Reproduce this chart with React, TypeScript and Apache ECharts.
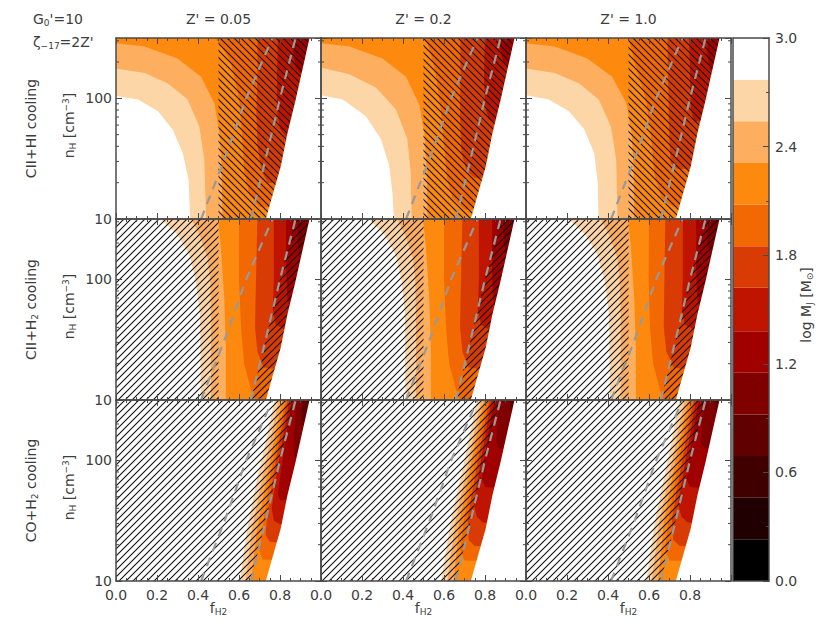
import React, { useEffect, useRef } from "react";
import * as echarts from "echarts";

type Pt = [number, number];

// ---------- texts ----------
const columnTitles = ["Z' = 0.05", "Z' = 0.2", "Z' = 1.0"];
const rowLabels = ["{b|CII+HI cooling}", "{b|CII+H}{s|2}{b| cooling}", "{b|CO+H}{s|2}{b| cooling}"];
const yAxisTitle = "{b|n}{s|H}{b| [cm}{p|−3}{b|]}";
const xAxisTitle = "{b|f}{s|H2}";
const colorbarTitle = "{b|log M}{s|J}{b| [M}{s|⊙}{b|]}";
const cornerLine1 = "{b|G}{s|0}{b|'=10}";
const cornerLine2 = "{b|ζ}{s|−17}{b|=2Z'}";

// ---------- colour scale ----------
const contourLevels = [2.77, 2.54, 2.31, 2.08, 1.85, 1.62, 1.38, 1.15, 0.92];
const bandColors = ["#FDD6A8", "#FDAE5E", "#FD8A0E", "#F26802", "#D83C04", "#BE1400", "#A00000", "#800000", "#600000"];
const colorbarEdges = [0, 0.23, 0.46, 0.69, 0.92, 1.15, 1.38, 1.62, 1.85, 2.08, 2.31, 2.54, 2.77, 3.0];
const colorbarColors = ["#000000", "#200000", "#400000", "#600000", "#800000", "#A00000", "#BE1400", "#D83C04", "#F26802", "#FD8A0E", "#FDAE5E", "#FDD6A8", "#FFFFFF"];

// ---------- axes ----------
const yMinorTicks = [20, 30, 40, 50, 60, 70, 80, 90, 200, 300];

// ---------- common curves (fH2, nH) ----------
const domainEdge: Pt[] = [[0.731, 10], [0.765, 16], [0.803, 27], [0.836, 51], [0.876, 97], [0.944, 316]];
const dashLine1: Pt[] = [[0.415, 10], [0.53, 31.6], [0.635, 100], [0.763, 316]];
const dashLine2: Pt[] = [[0.658, 10], [0.73, 31.6], [0.8, 100], [0.876, 316]];
const hatchSplit = 0.5;

// ---------- contour boundaries, one list per level (2.77, 2.54, ...) ----------
const hiZ005: Pt[][] = [
  [[-0.01, 105], [0.108, 98], [0.205, 78], [0.277, 55], [0.326, 35], [0.354, 21], [0.363, 9]],
  [[-0.01, 178], [0.14, 162], [0.253, 133], [0.35, 98], [0.407, 58], [0.431, 31], [0.44, 9]],
  [[-0.01, 288], [0.14, 269], [0.3, 214], [0.415, 151], [0.48, 91], [0.505, 51], [0.515, 27], [0.52, 9]],
  [[0.47, 340], [0.52, 263], [0.56, 200], [0.6, 100], [0.615, 50], [0.625, 25], [0.65, 16], [0.7, 12.6], [1.0, 12]],
  [[0.69, 340], [0.69, 158], [0.685, 79], [0.69, 40], [0.71, 25], [0.74, 20], [1.0, 19]],
  [[0.79, 340], [0.785, 158], [0.785, 79], [0.8, 56], [0.83, 48], [1.0, 47]],
  [[0.865, 340], [0.865, 224], [0.88, 178], [0.905, 158], [1.0, 155]],
];
const hiZ02: Pt[][] = [
  [[-0.01, 107], [0.106, 98], [0.219, 71], [0.292, 46], [0.332, 28], [0.349, 16], [0.357, 9]],
  [[-0.01, 182], [0.138, 158], [0.268, 123], [0.365, 81], [0.421, 46], [0.438, 24], [0.443, 9]],
  [[-0.01, 288], [0.14, 269], [0.3, 214], [0.415, 151], [0.48, 88], [0.505, 50], [0.515, 26], [0.52, 9]],
  [[0.5, 340], [0.53, 251], [0.56, 158], [0.585, 79], [0.6, 40], [0.615, 22], [0.64, 15], [0.7, 12], [1.0, 11.5]],
  [[0.68, 340], [0.68, 158], [0.678, 71], [0.685, 35], [0.71, 25], [0.75, 22], [1.0, 21]],
  [[0.8, 340], [0.795, 158], [0.8, 85], [0.82, 66], [0.86, 63], [1.0, 62]],
  [[0.875, 340], [0.875, 251], [0.89, 200], [0.92, 182], [1.0, 180]],
];
const hiZ10: Pt[][] = [
  [[-0.01, 107], [0.11, 98], [0.21, 78], [0.285, 55], [0.333, 35], [0.35, 20], [0.354, 9]],
  [[-0.01, 178], [0.14, 162], [0.26, 133], [0.355, 98], [0.415, 58], [0.44, 31], [0.447, 9]],
  [[-0.01, 288], [0.14, 269], [0.3, 214], [0.42, 151], [0.49, 91], [0.515, 51], [0.525, 27], [0.528, 9]],
  [[0.496, 340], [0.536, 182], [0.585, 98], [0.609, 51], [0.625, 24], [0.66, 15], [0.72, 12.6], [1.0, 12.3]],
  [[0.69, 340], [0.693, 158], [0.698, 51], [0.706, 29], [0.74, 26], [1.0, 26.5]],
  [[0.795, 340], [0.8, 158], [0.805, 79], [0.82, 65], [1.0, 62]],
  [[0.884, 340], [0.885, 224], [0.9, 170], [1.0, 166]],
];
const h2Z005: Pt[][] = [
  [[0.2, 340], [0.3, 234], [0.359, 158], [0.39, 95], [0.41, 51], [0.414, 9]],
  [[0.358, 340], [0.407, 234], [0.447, 150], [0.46, 95], [0.463, 51], [0.463, 9]],
  [[0.496, 340], [0.512, 182], [0.528, 69], [0.536, 27], [0.536, 9]],
  [[0.6, 340], [0.6, 100], [0.61, 40], [0.625, 20], [0.66, 12], [0.69, 9]],
  [[0.69, 340], [0.683, 100], [0.678, 40], [0.69, 25], [0.72, 18.6], [1.0, 16]],
  [[0.77, 340], [0.77, 100], [0.765, 56], [0.78, 42], [0.825, 38], [1.0, 37]],
  [[0.83, 340], [0.83, 126], [0.835, 71], [0.85, 58], [1.0, 56]],
  [[0.885, 340], [0.885, 200], [0.9, 158], [1.0, 155]],
];
const h2Z02: Pt[][] = [
  [[0.215, 340], [0.31, 234], [0.365, 158], [0.395, 95], [0.41, 51], [0.412, 9]],
  [[0.362, 340], [0.41, 234], [0.448, 150], [0.46, 95], [0.463, 51], [0.463, 9]],
  [[0.496, 340], [0.512, 182], [0.528, 69], [0.536, 27], [0.536, 9]],
  [[0.6, 340], [0.6, 100], [0.61, 40], [0.625, 20], [0.66, 12], [0.69, 9]],
  [[0.69, 340], [0.683, 100], [0.678, 40], [0.69, 25], [0.72, 18.6], [1.0, 16]],
  [[0.77, 340], [0.77, 100], [0.765, 56], [0.78, 42], [0.825, 38], [1.0, 37]],
  [[0.835, 340], [0.835, 126], [0.838, 71], [0.85, 58], [1.0, 56]],
  [[0.89, 340], [0.89, 200], [0.905, 158], [1.0, 155]],
];
const h2Z10: Pt[][] = [
  [[0.19, 340], [0.29, 234], [0.35, 158], [0.385, 95], [0.405, 51], [0.41, 9]],
  [[0.355, 340], [0.405, 234], [0.445, 150], [0.458, 95], [0.462, 51], [0.462, 9]],
  [[0.496, 340], [0.512, 182], [0.528, 69], [0.536, 27], [0.536, 9]],
  [[0.6, 340], [0.598, 100], [0.605, 40], [0.62, 20], [0.655, 12], [0.68, 9]],
  [[0.68, 340], [0.675, 100], [0.672, 40], [0.685, 25], [0.72, 18.6], [1.0, 16]],
  [[0.765, 340], [0.765, 100], [0.76, 56], [0.775, 42], [0.825, 38], [1.0, 37]],
  [[0.83, 340], [0.83, 126], [0.835, 71], [0.85, 58], [1.0, 56]],
  [[0.885, 340], [0.885, 200], [0.9, 158], [1.0, 155]],
];
const coZ005: Pt[][] = [
  [[0.777, 340], [0.737, 158], [0.689, 71], [0.64, 27], [0.6, 9]],
  [[0.797, 340], [0.757, 158], [0.713, 71], [0.664, 27], [0.628, 9]],
  [[0.815, 340], [0.775, 158], [0.735, 71], [0.688, 27], [0.656, 9]],
  [[0.83, 340], [0.79, 158], [0.75, 71], [0.715, 28], [0.7, 17.8], [0.715, 15.1], [1.0, 14.5]],
  [[0.84, 340], [0.8, 158], [0.765, 71], [0.735, 31.6], [0.73, 24], [0.75, 21], [1.0, 20.4]],
  [[0.85, 340], [0.815, 158], [0.78, 71], [0.76, 40], [0.77, 31.6], [0.8, 29.5], [1.0, 29]],
  [[0.86, 340], [0.83, 158], [0.8, 71], [0.79, 52.5], [0.8, 46.8], [1.0, 44.7]],
  [[0.885, 340], [0.87, 200], [0.865, 126], [0.87, 105], [1.0, 100]],
  [[0.91, 340], [0.905, 224], [0.915, 191], [1.0, 188]],
];
const coZ02: Pt[][] = [
  [[0.765, 340], [0.737, 204], [0.705, 110], [0.632, 30.5], [0.583, 9]],
  [[0.785, 340], [0.757, 204], [0.725, 110], [0.655, 30.5], [0.612, 9]],
  [[0.8, 340], [0.772, 204], [0.74, 110], [0.675, 30.5], [0.645, 9]],
  [[0.815, 340], [0.787, 204], [0.755, 110], [0.695, 30.5], [0.68, 18], [0.7, 14.8], [1.0, 14.3]],
  [[0.825, 340], [0.8, 204], [0.77, 110], [0.715, 33], [0.72, 22], [0.75, 19.5], [1.0, 19]],
  [[0.835, 340], [0.812, 204], [0.785, 110], [0.745, 44], [0.76, 34], [0.79, 30.5], [1.0, 30]],
  [[0.85, 340], [0.825, 204], [0.8, 110], [0.785, 70], [0.8, 60], [1.0, 57]],
  [[0.875, 340], [0.86, 204], [0.855, 140], [0.87, 125], [1.0, 123]],
  [[0.925, 340], [0.92, 263], [1.0, 250]],
];
const coZ10: Pt[][] = [
  [[0.753, 340], [0.727, 204], [0.697, 110], [0.628, 30.5], [0.583, 9]],
  [[0.778, 340], [0.75, 204], [0.718, 110], [0.65, 30.5], [0.61, 9]],
  [[0.795, 340], [0.767, 204], [0.735, 110], [0.672, 30.5], [0.642, 9]],
  [[0.81, 340], [0.782, 204], [0.75, 110], [0.692, 30.5], [0.678, 18], [0.7, 14.8], [1.0, 14.3]],
  [[0.822, 340], [0.796, 204], [0.766, 110], [0.712, 33], [0.718, 22], [0.75, 19.5], [1.0, 19]],
  [[0.833, 340], [0.81, 204], [0.782, 110], [0.742, 44], [0.758, 34], [0.79, 30.5], [1.0, 30]],
  [[0.848, 340], [0.823, 204], [0.798, 110], [0.783, 70], [0.8, 60], [1.0, 57]],
  [[0.873, 340], [0.858, 204], [0.853, 140], [0.87, 125], [1.0, 123]],
  [[0.923, 340], [0.918, 263], [1.0, 250]],
];

const panelContours: Pt[][][][] = [
  [hiZ005, hiZ02, hiZ10],
  [h2Z005, h2Z02, h2Z10],
  [coZ005, coZ02, coZ10],
];

// ---------- layout ----------
const colLeft = [116, 321, 526];
const colWidth = 205;
const rowTop = [38, 219, 400];
const rowHeight = 181;
const FONT = "DejaVu Sans";
const TEXT = "#3d3d3d";
const FRAME = "#4a4a4a";

function closeContour(c: Pt[]): Pt[] {
  const last = c[c.length - 1];
  return [...c, [1.1, last[1]], [1.1, 340], [-0.1, 340]];
}

function makeHatch(dir: "slash" | "back") {
  const s = 7;
  const cv = document.createElement("canvas");
  cv.width = s;
  cv.height = s;
  const ctx = cv.getContext("2d")!;
  ctx.strokeStyle = "#111";
  ctx.lineWidth = 1.1;
  ctx.beginPath();
  if (dir === "slash") {
    ctx.moveTo(-1, s + 1); ctx.lineTo(s + 1, -1);
    ctx.moveTo(-1, 1); ctx.lineTo(1, -1);
    ctx.moveTo(s - 1, s + 1); ctx.lineTo(s + 1, s - 1);
  } else {
    ctx.moveTo(-1, -1); ctx.lineTo(s + 1, s + 1);
    ctx.moveTo(s - 1, -1); ctx.lineTo(s + 1, 1);
    ctx.moveTo(-1, s - 1); ctx.lineTo(1, s + 1);
  }
  ctx.stroke();
  return { image: cv, repeat: "repeat", imageWidth: s, imageHeight: s };
}

function hatchPolys(row: number): Pt[][] {
  const l2first = dashLine2[0];
  const l2last = dashLine2[dashLine2.length - 1];
  if (row === 0) {
    return [[[hatchSplit, 9], [hatchSplit, 340], [1.1, 340], [1.1, 9]]];
  }
  if (row === 1) {
    return [
      [[-0.1, 9], [hatchSplit, 9], [hatchSplit, 340], [-0.1, 340]],
      [[l2first[0], 9], ...dashLine2, [l2last[0], 340], [1.1, 340], [1.1, 9]],
    ];
  }
  return [[[-0.1, 9], [l2first[0], 9], ...dashLine2, [l2last[0], 340], [-0.1, 340]]];
}

function richStyles(size: number) {
  const small = Math.round(size * 0.66);
  return {
    b: { fontFamily: FONT, fontSize: size, fill: TEXT, textFill: TEXT },
    s: { fontFamily: FONT, fontSize: small, fill: TEXT, textFill: TEXT, padding: [7, 0, 0, 0] },
    p: { fontFamily: FONT, fontSize: small, fill: TEXT, textFill: TEXT, padding: [0, 0, 7, 0] },
  };
}

function textEl(text: string, x: number, y: number, opts: any = {}) {
  const size = opts.size || 14;
  return {
    type: "text",
    x,
    y,
    rotation: opts.rotation || 0,
    silent: true,
    style: {
      text,
      fontFamily: FONT,
      fontSize: size,
      fill: TEXT,
      textFill: TEXT,
      textAlign: opts.align || "center",
      textVerticalAlign: "middle",
      align: opts.align || "center",
      verticalAlign: "middle",
      rich: richStyles(size),
    },
  };
}

function buildOption() {
  const slash = makeHatch("slash");
  const back = makeHatch("back");
  const grids: any[] = [];
  const xAxes: any[] = [];
  const yAxes: any[] = [];
  const series: any[] = [];

  const lineStyle = { color: FRAME, width: 1.5 };
  const tickStyle = { color: FRAME, width: 1 };

  for (let r = 0; r < 3; r++) {
    for (let c = 0; c < 3; c++) {
      const gi = r * 3 + c;
      grids.push({ left: colLeft[c], top: rowTop[r], width: colWidth, height: rowHeight });
      const xBase = {
        gridIndex: gi, type: "value", min: 0, max: 1, interval: 0.2, z: 10,
        axisLine: { show: true, onZero: false, lineStyle },
        axisTick: { show: true, inside: true, length: 6, lineStyle: tickStyle },
        minorTick: { show: true, splitNumber: 4, length: 3, lineStyle: tickStyle },
        splitLine: { show: false },
      };
      xAxes.push({
        ...xBase, position: "bottom",
        axisLabel: {
          show: r === 2, showMaxLabel: false, margin: 7, color: TEXT, fontFamily: FONT, fontSize: 14,
          formatter: (v: number) => v.toFixed(1),
        },
      });
      xAxes.push({ ...xBase, position: "top", axisLabel: { show: false } });
      const yBase = {
        gridIndex: gi, type: "log", logBase: 10, min: 10, max: 316.2, z: 10,
        axisLine: { show: true, onZero: false, lineStyle },
        axisTick: { show: true, inside: true, length: 6, lineStyle: tickStyle },
        splitLine: { show: false },
      };
      yAxes.push({
        ...yBase, position: "left",
        axisLabel: {
          show: c === 0, showMaxLabel: false, margin: 4, color: TEXT, fontFamily: FONT, fontSize: 14,
          formatter: (v: number) => (v > 200 ? "" : String(Math.round(v))),
        },
      });
      yAxes.push({ ...yBase, position: "right", axisLabel: { show: false } });

      const xi = 2 * gi;
      const contours = panelContours[r][c];
      const bandPolys = contours.map(closeContour);
      series.push({
        type: "custom", xAxisIndex: xi, yAxisIndex: xi, z: 1, clip: true, silent: true,
        data: bandPolys.map(() => [0.5, 50]),
        renderItem: (params: any, api: any) => ({
          type: "polygon",
          shape: { points: bandPolys[params.dataIndex].map((p) => api.coord(p)) },
          style: { fill: bandColors[params.dataIndex], stroke: null },
        }),
      });
      const hp = hatchPolys(r);
      const pat = r === 0 ? back : slash;
      series.push({
        type: "custom", xAxisIndex: xi, yAxisIndex: xi, z: 2, clip: true, silent: true,
        data: hp.map(() => [0.5, 50]),
        renderItem: (params: any, api: any) => ({
          type: "polygon",
          shape: { points: hp[params.dataIndex].map((p) => api.coord(p)) },
          style: { fill: pat, stroke: null },
        }),
      });
      const maskPoly: Pt[] = [[domainEdge[0][0], 9], ...domainEdge, [domainEdge[domainEdge.length - 1][0], 340], [1.1, 340], [1.1, 9]];
      series.push({
        type: "custom", xAxisIndex: xi, yAxisIndex: xi, z: 3, clip: true, silent: true,
        data: [[0.5, 50]],
        renderItem: (params: any, api: any) => ({
          type: "polygon",
          shape: { points: maskPoly.map((p) => api.coord(p)) },
          style: { fill: "#ffffff", stroke: null },
        }),
      });
      [dashLine1, dashLine2].forEach((ln) => {
        series.push({
          type: "line", xAxisIndex: xi, yAxisIndex: xi, z: 4, silent: true, clip: true,
          data: ln, symbol: "none", showSymbol: false,
          lineStyle: { color: "#999999", width: 2.2, type: [9, 7] },
        });
      });
      series.push({
        type: "custom", xAxisIndex: xi, yAxisIndex: xi, z: 5, silent: true,
        data: [[0.5, 50]],
        renderItem: (params: any, api: any) => {
          const children: any[] = [];
          yMinorTicks.forEach((v) => {
            const pl = api.coord([0, v]);
            const pr = api.coord([1, v]);
            children.push({ type: "line", shape: { x1: pl[0], y1: pl[1], x2: pl[0] + 3, y2: pl[1] }, style: { stroke: FRAME, lineWidth: 1 } });
            children.push({ type: "line", shape: { x1: pr[0], y1: pr[1], x2: pr[0] - 3, y2: pr[1] }, style: { stroke: FRAME, lineWidth: 1 } });
          });
          return { type: "group", children };
        },
      });
    }
  }

  // colour bar
  const cg = 9;
  grids.push({ left: 733, top: 38, width: 36, height: 543 });
  const cbX = {
    gridIndex: cg, type: "value", min: 0, max: 1, z: 10,
    axisLine: { show: true, onZero: false, lineStyle },
    axisTick: { show: false }, axisLabel: { show: false }, splitLine: { show: false },
  };
  xAxes.push({ ...cbX, position: "bottom" });
  xAxes.push({ ...cbX, position: "top" });
  yAxes.push({
    gridIndex: cg, type: "value", min: 0, max: 3, position: "left", z: 10,
    axisLine: { show: true, onZero: false, lineStyle },
    axisTick: { show: false }, axisLabel: { show: false }, splitLine: { show: false },
  });
  yAxes.push({
    gridIndex: cg, type: "value", min: 0, max: 3, interval: 0.6, position: "right", z: 10,
    axisLine: { show: true, onZero: false, lineStyle },
    axisTick: { show: true, inside: true, length: 6, lineStyle: tickStyle },
    minorTick: { show: true, splitNumber: 2, length: 3, lineStyle: tickStyle },
    splitLine: { show: false },
    axisLabel: { margin: 6, color: TEXT, fontFamily: FONT, fontSize: 14, formatter: (v: number) => v.toFixed(1) },
  });
  series.push({
    type: "custom", xAxisIndex: 18, yAxisIndex: 18, z: 1, silent: true, clip: true,
    data: colorbarColors.map((_, i) => [0.5, (colorbarEdges[i] + colorbarEdges[i + 1]) / 2]),
    renderItem: (params: any, api: any) => {
      const i = params.dataIndex;
      const a = api.coord([0, colorbarEdges[i + 1]]);
      const b = api.coord([1, colorbarEdges[i]]);
      return {
        type: "rect",
        shape: { x: a[0], y: a[1], width: b[0] - a[0], height: b[1] - a[1] },
        style: { fill: colorbarColors[i], stroke: null },
      };
    },
  });

  const texts: any[] = [];
  texts.push(textEl(cornerLine1, 33, 19, { align: "left" }));
  texts.push(textEl(cornerLine2, 33, 42, { align: "left" }));
  columnTitles.forEach((t, c) => texts.push(textEl(t, colLeft[c] + colWidth / 2, 19)));
  rowLabels.forEach((t, r) => {
    const cy = rowTop[r] + rowHeight / 2;
    texts.push(textEl(t, 31, cy, { rotation: Math.PI / 2 }));
    texts.push(textEl(yAxisTitle, 69, cy - 3, { rotation: Math.PI / 2 }));
  });
  columnTitles.forEach((_, c) => texts.push(textEl(xAxisTitle, colLeft[c] + colWidth / 2, 608)));
  texts.push(textEl(colorbarTitle, 806, 305, { rotation: Math.PI / 2 }));

  return {
    animation: false,
    backgroundColor: "#ffffff",
    grid: grids,
    xAxis: xAxes,
    yAxis: yAxes,
    series,
    graphic: { elements: texts },
  };
}

export default function App() {
  const ref = useRef<HTMLDivElement>(null);
  useEffect(() => {
    if (!ref.current) return;
    const chart = echarts.init(ref.current, undefined, { renderer: "svg" });
    chart.setOption(buildOption() as any);
    return () => chart.dispose();
  }, []);
  return (
    <div
      ref={ref}
      style={{ position: "fixed", left: 0, top: 0, width: 830, height: 633, background: "#fff" }}
    />
  );
}
